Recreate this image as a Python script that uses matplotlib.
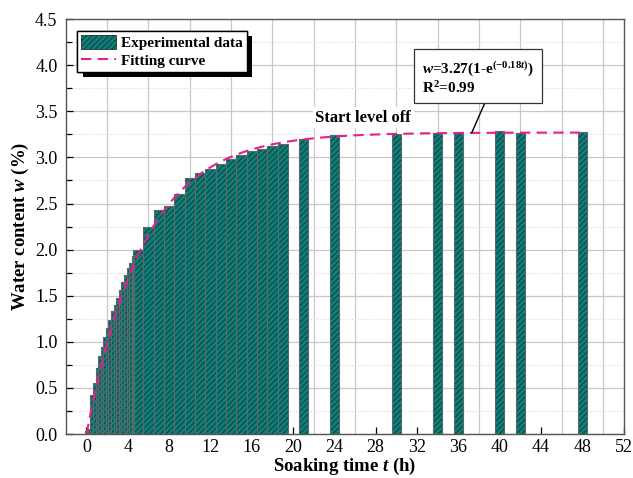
import numpy as np
import matplotlib
matplotlib.use("Agg")
import matplotlib.pyplot as plt
from matplotlib.patches import Patch
from matplotlib.lines import Line2D
from matplotlib import patheffects as pe

plt.rcParams['font.family'] = ['Liberation Serif', 'DejaVu Serif']
plt.rcParams['mathtext.fontset'] = 'custom'
plt.rcParams['mathtext.rm'] = 'Liberation Serif:bold'
plt.rcParams['mathtext.it'] = 'Liberation Serif:italic:bold'
plt.rcParams['mathtext.bf'] = 'Liberation Serif:bold'
plt.rcParams['hatch.linewidth'] = 0.6

# ---- data ----
time_h = [0, 0.25, 0.5, 0.75, 1.0, 1.25, 1.5, 1.75, 2.0, 2.25, 2.5, 2.75, 3.0,
          3.25, 3.5, 3.75, 4.0, 4.25, 4.5,
          5, 6, 7, 8, 9, 10, 11, 12, 13, 14, 15, 16, 17, 18, 19,
          21, 24, 30, 34, 36, 40, 42, 48]
water = [0.03, 0.05, 0.42, 0.55, 0.72, 0.85, 0.94, 1.05, 1.15, 1.24, 1.33, 1.40, 1.48,
         1.56, 1.65, 1.73, 1.80, 1.86, 1.93,
         2.00, 2.24, 2.43, 2.47, 2.60, 2.78, 2.83, 2.87, 2.93, 2.98, 3.03, 3.07, 3.09, 3.12, 3.15,
         3.20, 3.24, 3.25, 3.27, 3.28, 3.29, 3.27, 3.28]
fit_a = 3.27
fit_k = 0.18
x_ticks = [0, 4, 8, 12, 16, 20, 24, 28, 32, 36, 40, 44, 48, 52]
y_ticks = [0.0, 0.5, 1.0, 1.5, 2.0, 2.5, 3.0, 3.5, 4.0, 4.5]

teal = '#0b7f79'
pink = '#e4208a'

t = np.array(time_h, dtype=float)
w = np.array(water)
widths = np.where(t < 4.9, 0.25, np.where(t <= 19, 1.0, 0.9))

fig = plt.figure(figsize=(6.33, 4.78), dpi=100)
ax = fig.add_axes([0.104, 0.092, 0.881, 0.868])

# grid
ax.set_xlim(-2, 52)
ax.set_ylim(0, 4.5)
ax.set_xticks(x_ticks)
ax.set_xticks([v + 2 for v in x_ticks[:-1]], minor=True)
ax.set_yticks(y_ticks)
ax.set_yticks(np.arange(0.25, 4.5, 0.5), minor=True)
ax.set_yticklabels([f"{v:.1f}" for v in y_ticks])
ax.grid(False)
ax.grid(True, which='minor', axis='x', color='#c8c8c8', lw=0.9)
ax.grid(True, which='major', axis='y', color='#c8c8c8', lw=0.9)
ax.grid(True, which='minor', axis='y', color='#d8d8d8', lw=0.8, ls=':')
ax.set_axisbelow(True)

# bars
ax.bar(t, w, width=widths, color=teal, edgecolor='#1e2e2e', linewidth=0, hatch='//////', zorder=2)
ax.bar(t, w, width=widths, fill=False, edgecolor='#5a6a6a', linewidth=0.8, zorder=3)

# fitting curve
tc = np.linspace(0, 48, 400)
ax.plot(tc, fit_a * (1 - np.exp(-fit_k * tc)), color=pink, lw=1.5, dashes=(5, 3), zorder=4)

# ticks
ax.tick_params(axis='both', which='major', direction='in', length=5, width=0.9,
               labelsize=13)
ax.tick_params(axis='x', which='major', pad=3.5)
ax.tick_params(axis='y', which='major', pad=6)
ax.tick_params(axis='x', which='minor', direction='in', length=0)
ax.tick_params(axis='y', which='minor', direction='in', length=4, width=0.9)
for s in ax.spines.values():
    s.set_color('#555555')
    s.set_linewidth(1.0)

ax.set_xlabel('Soaking time $t$ (h)', fontsize=13.5, fontweight='bold', labelpad=0)
ax.set_ylabel('Water content $w$ (%)', fontsize=13.5, fontweight='bold', labelpad=3)

# legend
handles = [Patch(facecolor=teal, edgecolor='#1e2e2e', hatch='//////', linewidth=0.6),
           Line2D([0], [0], color=pink, lw=1.5, dashes=(5, 3))]
leg = ax.legend(handles, ['Experimental data', 'Fitting curve'],
                loc='upper left', bbox_to_anchor=(0.02, 0.972),
                prop={'weight': 'bold', 'size': 11}, fancybox=False,
                framealpha=1, edgecolor='black', handlelength=2.3, handleheight=1.1,
                borderpad=0.25, labelspacing=0.15, handletextpad=0.35, borderaxespad=0)
leg.get_frame().set_linewidth(1.0)
leg.get_frame().set_path_effects([pe.withSimplePatchShadow(offset=(4, -4), shadow_rgbFace='k', alpha=1.0),
                                  pe.Normal()])
leg.set_zorder(10)

# annotation
t_ann = 37.3
ax.annotate('$w$=3.27(1-e$^{(-0.18t)}$)\nR$^2$=0.99',
            xy=(t_ann, fit_a * (1 - np.exp(-fit_k * t_ann))),
            xytext=(32.5, 3.87), ha='left', va='center',
            fontsize=11, fontweight='bold', linespacing=1.15,
            bbox=dict(boxstyle='square,pad=0.5', fc='white', ec='#333333', lw=0.9),
            arrowprops=dict(arrowstyle='-', color='black', lw=1.0, relpos=(0.59, 0.0),
                            shrinkA=0, shrinkB=0),
            zorder=10)

ax.text(26.8, 3.43, 'Start level off', ha='center', va='center', fontsize=12,
        fontweight='bold', zorder=10,
        bbox=dict(boxstyle='square,pad=0.15', fc='white', ec='none'))

fig.savefig('out.png', dpi=100)
